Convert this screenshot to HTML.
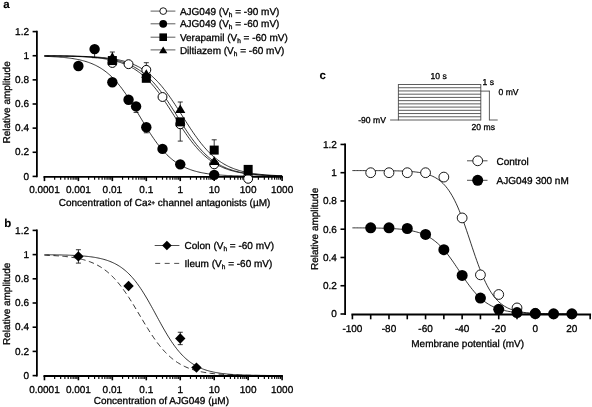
<!DOCTYPE html>
<html><head><meta charset="utf-8"><title>Figure</title>
<style>
html,body{margin:0;padding:0;background:#fff;}
body{width:592px;height:407px;overflow:hidden;font-family:"Liberation Sans",sans-serif;}
svg{display:block;filter:grayscale(1);}
svg text{font-family:"Liberation Sans",sans-serif;fill:#000;stroke:#000;stroke-width:0.3px;text-rendering:geometricPrecision;}
</style></head>
<body>
<svg width="592" height="407" viewBox="0 0 592 407">
<rect width="592" height="407" fill="#fff"/>
<line x1="36.90" y1="30.70" x2="36.90" y2="177.30" stroke="#000" stroke-width="1.8" /><line x1="32.60" y1="176.40" x2="36.90" y2="176.40" stroke="#000" stroke-width="1.6" /><text x="29.00" y="179.60" font-size="10" text-anchor="end" font-weight="normal"  fill="#000" >0</text><line x1="32.60" y1="152.27" x2="36.90" y2="152.27" stroke="#000" stroke-width="1.6" /><text x="29.00" y="155.47" font-size="10" text-anchor="end" font-weight="normal"  fill="#000" >0.2</text><line x1="32.60" y1="128.13" x2="36.90" y2="128.13" stroke="#000" stroke-width="1.6" /><text x="29.00" y="131.33" font-size="10" text-anchor="end" font-weight="normal"  fill="#000" >0.4</text><line x1="32.60" y1="104.00" x2="36.90" y2="104.00" stroke="#000" stroke-width="1.6" /><text x="29.00" y="107.20" font-size="10" text-anchor="end" font-weight="normal"  fill="#000" >0.6</text><line x1="32.60" y1="79.86" x2="36.90" y2="79.86" stroke="#000" stroke-width="1.6" /><text x="29.00" y="83.06" font-size="10" text-anchor="end" font-weight="normal"  fill="#000" >0.8</text><line x1="32.60" y1="55.73" x2="36.90" y2="55.73" stroke="#000" stroke-width="1.6" /><text x="29.00" y="58.93" font-size="10" text-anchor="end" font-weight="normal"  fill="#000" >1</text><line x1="32.60" y1="31.60" x2="36.90" y2="31.60" stroke="#000" stroke-width="1.6" /><text x="29.00" y="34.80" font-size="10" text-anchor="end" font-weight="normal"  fill="#000" >1.2</text><line x1="43.45" y1="176.80" x2="282.90" y2="176.80" stroke="#000" stroke-width="1.8" /><line x1="44.45" y1="176.80" x2="44.45" y2="181.10" stroke="#000" stroke-width="1.6" /><line x1="54.67" y1="176.80" x2="54.67" y2="179.70" stroke="#000" stroke-width="1.15" /><line x1="60.65" y1="176.80" x2="60.65" y2="179.70" stroke="#000" stroke-width="1.15" /><line x1="64.89" y1="176.80" x2="64.89" y2="179.70" stroke="#000" stroke-width="1.15" /><line x1="68.18" y1="176.80" x2="68.18" y2="179.70" stroke="#000" stroke-width="1.15" /><line x1="70.87" y1="176.80" x2="70.87" y2="179.70" stroke="#000" stroke-width="1.15" /><line x1="73.14" y1="176.80" x2="73.14" y2="179.70" stroke="#000" stroke-width="1.15" /><line x1="75.11" y1="176.80" x2="75.11" y2="179.70" stroke="#000" stroke-width="1.15" /><line x1="76.85" y1="176.80" x2="76.85" y2="179.70" stroke="#000" stroke-width="1.15" /><line x1="78.40" y1="176.80" x2="78.40" y2="181.10" stroke="#000" stroke-width="1.6" /><line x1="88.62" y1="176.80" x2="88.62" y2="179.70" stroke="#000" stroke-width="1.15" /><line x1="94.60" y1="176.80" x2="94.60" y2="179.70" stroke="#000" stroke-width="1.15" /><line x1="98.84" y1="176.80" x2="98.84" y2="179.70" stroke="#000" stroke-width="1.15" /><line x1="102.13" y1="176.80" x2="102.13" y2="179.70" stroke="#000" stroke-width="1.15" /><line x1="104.82" y1="176.80" x2="104.82" y2="179.70" stroke="#000" stroke-width="1.15" /><line x1="107.09" y1="176.80" x2="107.09" y2="179.70" stroke="#000" stroke-width="1.15" /><line x1="109.06" y1="176.80" x2="109.06" y2="179.70" stroke="#000" stroke-width="1.15" /><line x1="110.80" y1="176.80" x2="110.80" y2="179.70" stroke="#000" stroke-width="1.15" /><line x1="112.35" y1="176.80" x2="112.35" y2="181.10" stroke="#000" stroke-width="1.6" /><line x1="122.57" y1="176.80" x2="122.57" y2="179.70" stroke="#000" stroke-width="1.15" /><line x1="128.55" y1="176.80" x2="128.55" y2="179.70" stroke="#000" stroke-width="1.15" /><line x1="132.79" y1="176.80" x2="132.79" y2="179.70" stroke="#000" stroke-width="1.15" /><line x1="136.08" y1="176.80" x2="136.08" y2="179.70" stroke="#000" stroke-width="1.15" /><line x1="138.77" y1="176.80" x2="138.77" y2="179.70" stroke="#000" stroke-width="1.15" /><line x1="141.04" y1="176.80" x2="141.04" y2="179.70" stroke="#000" stroke-width="1.15" /><line x1="143.01" y1="176.80" x2="143.01" y2="179.70" stroke="#000" stroke-width="1.15" /><line x1="144.75" y1="176.80" x2="144.75" y2="179.70" stroke="#000" stroke-width="1.15" /><line x1="146.30" y1="176.80" x2="146.30" y2="181.10" stroke="#000" stroke-width="1.6" /><line x1="156.52" y1="176.80" x2="156.52" y2="179.70" stroke="#000" stroke-width="1.15" /><line x1="162.50" y1="176.80" x2="162.50" y2="179.70" stroke="#000" stroke-width="1.15" /><line x1="166.74" y1="176.80" x2="166.74" y2="179.70" stroke="#000" stroke-width="1.15" /><line x1="170.03" y1="176.80" x2="170.03" y2="179.70" stroke="#000" stroke-width="1.15" /><line x1="172.72" y1="176.80" x2="172.72" y2="179.70" stroke="#000" stroke-width="1.15" /><line x1="174.99" y1="176.80" x2="174.99" y2="179.70" stroke="#000" stroke-width="1.15" /><line x1="176.96" y1="176.80" x2="176.96" y2="179.70" stroke="#000" stroke-width="1.15" /><line x1="178.70" y1="176.80" x2="178.70" y2="179.70" stroke="#000" stroke-width="1.15" /><line x1="180.25" y1="176.80" x2="180.25" y2="181.10" stroke="#000" stroke-width="1.6" /><line x1="190.47" y1="176.80" x2="190.47" y2="179.70" stroke="#000" stroke-width="1.15" /><line x1="196.45" y1="176.80" x2="196.45" y2="179.70" stroke="#000" stroke-width="1.15" /><line x1="200.69" y1="176.80" x2="200.69" y2="179.70" stroke="#000" stroke-width="1.15" /><line x1="203.98" y1="176.80" x2="203.98" y2="179.70" stroke="#000" stroke-width="1.15" /><line x1="206.67" y1="176.80" x2="206.67" y2="179.70" stroke="#000" stroke-width="1.15" /><line x1="208.94" y1="176.80" x2="208.94" y2="179.70" stroke="#000" stroke-width="1.15" /><line x1="210.91" y1="176.80" x2="210.91" y2="179.70" stroke="#000" stroke-width="1.15" /><line x1="212.65" y1="176.80" x2="212.65" y2="179.70" stroke="#000" stroke-width="1.15" /><line x1="214.20" y1="176.80" x2="214.20" y2="181.10" stroke="#000" stroke-width="1.6" /><line x1="224.42" y1="176.80" x2="224.42" y2="179.70" stroke="#000" stroke-width="1.15" /><line x1="230.40" y1="176.80" x2="230.40" y2="179.70" stroke="#000" stroke-width="1.15" /><line x1="234.64" y1="176.80" x2="234.64" y2="179.70" stroke="#000" stroke-width="1.15" /><line x1="237.93" y1="176.80" x2="237.93" y2="179.70" stroke="#000" stroke-width="1.15" /><line x1="240.62" y1="176.80" x2="240.62" y2="179.70" stroke="#000" stroke-width="1.15" /><line x1="242.89" y1="176.80" x2="242.89" y2="179.70" stroke="#000" stroke-width="1.15" /><line x1="244.86" y1="176.80" x2="244.86" y2="179.70" stroke="#000" stroke-width="1.15" /><line x1="246.60" y1="176.80" x2="246.60" y2="179.70" stroke="#000" stroke-width="1.15" /><line x1="248.15" y1="176.80" x2="248.15" y2="181.10" stroke="#000" stroke-width="1.6" /><line x1="258.37" y1="176.80" x2="258.37" y2="179.70" stroke="#000" stroke-width="1.15" /><line x1="264.35" y1="176.80" x2="264.35" y2="179.70" stroke="#000" stroke-width="1.15" /><line x1="268.59" y1="176.80" x2="268.59" y2="179.70" stroke="#000" stroke-width="1.15" /><line x1="271.88" y1="176.80" x2="271.88" y2="179.70" stroke="#000" stroke-width="1.15" /><line x1="274.57" y1="176.80" x2="274.57" y2="179.70" stroke="#000" stroke-width="1.15" /><line x1="276.84" y1="176.80" x2="276.84" y2="179.70" stroke="#000" stroke-width="1.15" /><line x1="278.81" y1="176.80" x2="278.81" y2="179.70" stroke="#000" stroke-width="1.15" /><line x1="280.55" y1="176.80" x2="280.55" y2="179.70" stroke="#000" stroke-width="1.15" /><line x1="282.10" y1="176.80" x2="282.10" y2="181.10" stroke="#000" stroke-width="1.6" /><text x="44.45" y="192.60" font-size="10" text-anchor="middle" font-weight="normal"  fill="#000" >0.0001</text><text x="78.40" y="192.60" font-size="10" text-anchor="middle" font-weight="normal"  fill="#000" >0.001</text><text x="112.35" y="192.60" font-size="10" text-anchor="middle" font-weight="normal"  fill="#000" >0.01</text><text x="146.30" y="192.60" font-size="10" text-anchor="middle" font-weight="normal"  fill="#000" >0.1</text><text x="180.25" y="192.60" font-size="10" text-anchor="middle" font-weight="normal"  fill="#000" >1</text><text x="214.20" y="192.60" font-size="10" text-anchor="middle" font-weight="normal"  fill="#000" >10</text><text x="248.15" y="192.60" font-size="10" text-anchor="middle" font-weight="normal"  fill="#000" >100</text><text x="282.10" y="192.60" font-size="10" text-anchor="middle" font-weight="normal"  fill="#000" >1000</text><text x="58.70" y="205.80" font-size="10" text-anchor="start" font-weight="normal"  fill="#000" >Concentration of Ca<tspan font-size="6.5" dy="-1">2+</tspan><tspan dy="1"> channel antagonists (µM)</tspan></text><text transform="translate(10.0 102.4) rotate(-90)" font-size="10" text-anchor="middle" >Relative amplitude</text>
<text x="3.20" y="7.80" font-size="11.5" text-anchor="start" font-weight="bold"  fill="#000" style="stroke-width:0.1px">a</text>
<path d="M44.45 56.33 L45.64 56.38 L46.83 56.42 L48.01 56.47 L49.20 56.52 L50.39 56.57 L51.58 56.63 L52.77 56.69 L53.96 56.75 L55.14 56.82 L56.33 56.89 L57.52 56.97 L58.71 57.06 L59.90 57.15 L61.09 57.24 L62.27 57.34 L63.46 57.45 L64.65 57.57 L65.84 57.69 L67.03 57.82 L68.22 57.96 L69.40 58.11 L70.59 58.27 L71.78 58.44 L72.97 58.62 L74.16 58.82 L75.34 59.02 L76.53 59.24 L77.72 59.47 L78.91 59.72 L80.10 59.98 L81.29 60.26 L82.47 60.56 L83.66 60.88 L84.85 61.21 L86.04 61.57 L87.23 61.95 L88.42 62.35 L89.60 62.77 L90.79 63.23 L91.98 63.70 L93.17 64.21 L94.36 64.75 L95.54 65.31 L96.73 65.91 L97.92 66.55 L99.11 67.21 L100.30 67.92 L101.49 68.66 L102.67 69.45 L103.86 70.27 L105.05 71.14 L106.24 72.05 L107.43 73.00 L108.62 74.00 L109.80 75.05 L110.99 76.15 L112.18 77.29 L113.37 78.49 L114.56 79.73 L115.75 81.03 L116.93 82.38 L118.12 83.77 L119.31 85.22 L120.50 86.72 L121.69 88.27 L122.87 89.86 L124.06 91.50 L125.25 93.19 L126.44 94.91 L127.63 96.68 L128.82 98.49 L130.00 100.33 L131.19 102.20 L132.38 104.11 L133.57 106.03 L134.76 107.98 L135.95 109.95 L137.13 111.93 L138.32 113.91 L139.51 115.91 L140.70 117.90 L141.89 119.89 L143.07 121.87 L144.26 123.84 L145.45 125.79 L146.64 127.72 L147.83 129.63 L149.02 131.50 L150.20 133.35 L151.39 135.16 L152.58 136.94 L153.77 138.67 L154.96 140.37 L156.15 142.01 L157.33 143.61 L158.52 145.17 L159.71 146.67 L160.90 148.13 L162.09 149.53 L163.28 150.89 L164.46 152.19 L165.65 153.45 L166.84 154.65 L168.03 155.80 L169.22 156.91 L170.40 157.96 L171.59 158.97 L172.78 159.93 L173.97 160.85 L175.16 161.73 L176.35 162.56 L177.53 163.35 L178.72 164.10 L179.91 164.81 L181.10 165.48 L182.29 166.12 L183.48 166.72 L184.66 167.30 L185.85 167.84 L187.04 168.35 L188.23 168.83 L189.42 169.29 L190.60 169.72 L191.79 170.12 L192.98 170.50 L194.17 170.86 L195.36 171.20 L196.55 171.52 L197.73 171.82 L198.92 172.10 L200.11 172.37 L201.30 172.62 L202.49 172.85 L203.68 173.07 L204.86 173.28 L206.05 173.48 L207.24 173.66 L208.43 173.83 L209.62 173.99 L210.81 174.14 L211.99 174.28 L213.18 174.42 L214.37 174.54 L215.56 174.66 L216.75 174.77 L217.93 174.87 L219.12 174.97 L220.31 175.06 L221.50 175.14 L222.69 175.22 L223.88 175.30 L225.06 175.37 L226.25 175.43 L227.44 175.49 L228.63 175.55 L229.82 175.61 L231.01 175.66 L232.19 175.70 L233.38 175.75 L234.57 175.79 L235.76 175.83 L236.95 175.86 L238.13 175.90 L239.32 175.93 L240.51 175.96 L241.70 175.99 L242.89 176.01 L244.08 176.04 L245.26 176.06 L246.45 176.08 L247.64 176.10 L248.83 176.12 L250.02 176.14 L251.21 176.16 L252.39 176.17 L253.58 176.19 L254.77 176.20 L255.96 176.21 L257.15 176.23 L258.34 176.24 L259.52 176.25 L260.71 176.26 L261.90 176.27 L263.09 176.27 L264.28 176.28 L265.46 176.29 L266.65 176.30 L267.84 176.30 L269.03 176.31 L270.22 176.32 L271.41 176.32 L272.59 176.33 L273.78 176.33 L274.97 176.34 L276.16 176.34 L277.35 176.34 L278.54 176.35 L279.72 176.35 L280.91 176.35 L282.10 176.36" fill="none" stroke="#000" stroke-width="0.8" />
<path d="M44.45 55.87 L45.64 55.88 L46.83 55.88 L48.01 55.89 L49.20 55.90 L50.39 55.92 L51.58 55.93 L52.77 55.94 L53.96 55.95 L55.14 55.97 L56.33 55.98 L57.52 56.00 L58.71 56.02 L59.90 56.04 L61.09 56.05 L62.27 56.08 L63.46 56.10 L64.65 56.12 L65.84 56.15 L67.03 56.17 L68.22 56.20 L69.40 56.23 L70.59 56.26 L71.78 56.30 L72.97 56.33 L74.16 56.37 L75.34 56.41 L76.53 56.46 L77.72 56.50 L78.91 56.55 L80.10 56.60 L81.29 56.66 L82.47 56.72 L83.66 56.78 L84.85 56.85 L86.04 56.92 L87.23 56.99 L88.42 57.07 L89.60 57.16 L90.79 57.25 L91.98 57.34 L93.17 57.44 L94.36 57.55 L95.54 57.67 L96.73 57.79 L97.92 57.92 L99.11 58.06 L100.30 58.20 L101.49 58.36 L102.67 58.52 L103.86 58.70 L105.05 58.88 L106.24 59.08 L107.43 59.29 L108.62 59.51 L109.80 59.74 L110.99 59.99 L112.18 60.25 L113.37 60.53 L114.56 60.82 L115.75 61.13 L116.93 61.46 L118.12 61.81 L119.31 62.18 L120.50 62.57 L121.69 62.98 L122.87 63.41 L124.06 63.87 L125.25 64.36 L126.44 64.87 L127.63 65.41 L128.82 65.97 L130.00 66.57 L131.19 67.20 L132.38 67.86 L133.57 68.55 L134.76 69.28 L135.95 70.05 L137.13 70.85 L138.32 71.69 L139.51 72.57 L140.70 73.49 L141.89 74.45 L143.07 75.45 L144.26 76.49 L145.45 77.58 L146.64 78.72 L147.83 79.89 L149.02 81.11 L150.20 82.38 L151.39 83.69 L152.58 85.05 L153.77 86.44 L154.96 87.89 L156.15 89.37 L157.33 90.90 L158.52 92.46 L159.71 94.07 L160.90 95.71 L162.09 97.39 L163.28 99.09 L164.46 100.83 L165.65 102.60 L166.84 104.39 L168.03 106.20 L169.22 108.03 L170.40 109.88 L171.59 111.74 L172.78 113.60 L173.97 115.47 L175.16 117.34 L176.35 119.21 L177.53 121.08 L178.72 122.93 L179.91 124.77 L181.10 126.60 L182.29 128.40 L183.48 130.18 L184.66 131.94 L185.85 133.67 L187.04 135.36 L188.23 137.03 L189.42 138.65 L190.60 140.25 L191.79 141.80 L192.98 143.31 L194.17 144.78 L195.36 146.20 L196.55 147.59 L197.73 148.93 L198.92 150.22 L200.11 151.47 L201.30 152.68 L202.49 153.84 L203.68 154.95 L204.86 156.02 L206.05 157.05 L207.24 158.04 L208.43 158.99 L209.62 159.89 L210.81 160.76 L211.99 161.58 L213.18 162.37 L214.37 163.12 L215.56 163.84 L216.75 164.52 L217.93 165.17 L219.12 165.78 L220.31 166.37 L221.50 166.92 L222.69 167.45 L223.88 167.95 L225.06 168.43 L226.25 168.88 L227.44 169.30 L228.63 169.71 L229.82 170.09 L231.01 170.45 L232.19 170.79 L233.38 171.11 L234.57 171.42 L235.76 171.71 L236.95 171.98 L238.13 172.24 L239.32 172.48 L240.51 172.71 L241.70 172.92 L242.89 173.13 L244.08 173.32 L245.26 173.50 L246.45 173.67 L247.64 173.83 L248.83 173.98 L250.02 174.12 L251.21 174.26 L252.39 174.39 L253.58 174.51 L254.77 174.62 L255.96 174.72 L257.15 174.82 L258.34 174.92 L259.52 175.00 L260.71 175.09 L261.90 175.17 L263.09 175.24 L264.28 175.31 L265.46 175.37 L266.65 175.43 L267.84 175.49 L269.03 175.55 L270.22 175.60 L271.41 175.65 L272.59 175.69 L273.78 175.73 L274.97 175.77 L276.16 175.81 L277.35 175.85 L278.54 175.88 L279.72 175.91 L280.91 175.94 L282.10 175.97" fill="none" stroke="#000" stroke-width="0.8" />
<path d="M44.45 55.84 L45.64 55.84 L46.83 55.85 L48.01 55.86 L49.20 55.87 L50.39 55.88 L51.58 55.89 L52.77 55.90 L53.96 55.91 L55.14 55.92 L56.33 55.93 L57.52 55.95 L58.71 55.96 L59.90 55.97 L61.09 55.99 L62.27 56.01 L63.46 56.02 L64.65 56.04 L65.84 56.06 L67.03 56.09 L68.22 56.11 L69.40 56.13 L70.59 56.16 L71.78 56.19 L72.97 56.22 L74.16 56.25 L75.34 56.28 L76.53 56.32 L77.72 56.35 L78.91 56.39 L80.10 56.44 L81.29 56.48 L82.47 56.53 L83.66 56.58 L84.85 56.64 L86.04 56.70 L87.23 56.76 L88.42 56.82 L89.60 56.89 L90.79 56.97 L91.98 57.05 L93.17 57.13 L94.36 57.22 L95.54 57.32 L96.73 57.42 L97.92 57.53 L99.11 57.64 L100.30 57.77 L101.49 57.90 L102.67 58.03 L103.86 58.18 L105.05 58.33 L106.24 58.50 L107.43 58.68 L108.62 58.86 L109.80 59.06 L110.99 59.27 L112.18 59.49 L113.37 59.73 L114.56 59.98 L115.75 60.24 L116.93 60.52 L118.12 60.82 L119.31 61.14 L120.50 61.47 L121.69 61.82 L122.87 62.20 L124.06 62.60 L125.25 63.01 L126.44 63.46 L127.63 63.92 L128.82 64.42 L130.00 64.94 L131.19 65.49 L132.38 66.06 L133.57 66.67 L134.76 67.32 L135.95 67.99 L137.13 68.70 L138.32 69.45 L139.51 70.23 L140.70 71.05 L141.89 71.91 L143.07 72.81 L144.26 73.76 L145.45 74.74 L146.64 75.77 L147.83 76.84 L149.02 77.96 L150.20 79.12 L151.39 80.33 L152.58 81.59 L153.77 82.89 L154.96 84.23 L156.15 85.62 L157.33 87.06 L158.52 88.54 L159.71 90.06 L160.90 91.63 L162.09 93.23 L163.28 94.87 L164.46 96.56 L165.65 98.27 L166.84 100.02 L168.03 101.79 L169.22 103.60 L170.40 105.42 L171.59 107.27 L172.78 109.13 L173.97 111.01 L175.16 112.90 L176.35 114.79 L177.53 116.69 L178.72 118.58 L179.91 120.47 L181.10 122.35 L182.29 124.22 L183.48 126.08 L184.66 127.91 L185.85 129.72 L187.04 131.51 L188.23 133.27 L189.42 134.99 L190.60 136.68 L191.79 138.34 L192.98 139.96 L194.17 141.54 L195.36 143.08 L196.55 144.57 L197.73 146.02 L198.92 147.43 L200.11 148.79 L201.30 150.10 L202.49 151.37 L203.68 152.60 L204.86 153.78 L206.05 154.91 L207.24 156.00 L208.43 157.04 L209.62 158.04 L210.81 159.00 L211.99 159.91 L213.18 160.79 L214.37 161.62 L215.56 162.42 L216.75 163.18 L217.93 163.90 L219.12 164.59 L220.31 165.24 L221.50 165.86 L222.69 166.45 L223.88 167.01 L225.06 167.54 L226.25 168.04 L227.44 168.52 L228.63 168.97 L229.82 169.39 L231.01 169.80 L232.19 170.18 L233.38 170.54 L234.57 170.88 L235.76 171.20 L236.95 171.51 L238.13 171.79 L239.32 172.06 L240.51 172.32 L241.70 172.56 L242.89 172.79 L244.08 173.00 L245.26 173.20 L246.45 173.39 L247.64 173.57 L248.83 173.74 L250.02 173.90 L251.21 174.05 L252.39 174.19 L253.58 174.32 L254.77 174.45 L255.96 174.56 L257.15 174.67 L258.34 174.78 L259.52 174.87 L260.71 174.97 L261.90 175.05 L263.09 175.13 L264.28 175.21 L265.46 175.28 L266.65 175.35 L267.84 175.41 L269.03 175.47 L270.22 175.53 L271.41 175.58 L272.59 175.63 L273.78 175.68 L274.97 175.72 L276.16 175.76 L277.35 175.80 L278.54 175.84 L279.72 175.87 L280.91 175.90 L282.10 175.93" fill="none" stroke="#000" stroke-width="0.8" />
<path d="M44.45 55.82 L45.64 55.83 L46.83 55.83 L48.01 55.84 L49.20 55.84 L50.39 55.85 L51.58 55.86 L52.77 55.87 L53.96 55.88 L55.14 55.89 L56.33 55.90 L57.52 55.91 L58.71 55.92 L59.90 55.93 L61.09 55.94 L62.27 55.96 L63.46 55.97 L64.65 55.99 L65.84 56.00 L67.03 56.02 L68.22 56.04 L69.40 56.06 L70.59 56.08 L71.78 56.10 L72.97 56.13 L74.16 56.15 L75.34 56.18 L76.53 56.21 L77.72 56.24 L78.91 56.27 L80.10 56.30 L81.29 56.34 L82.47 56.38 L83.66 56.42 L84.85 56.46 L86.04 56.51 L87.23 56.56 L88.42 56.61 L89.60 56.67 L90.79 56.73 L91.98 56.79 L93.17 56.86 L94.36 56.93 L95.54 57.01 L96.73 57.09 L97.92 57.17 L99.11 57.26 L100.30 57.36 L101.49 57.46 L102.67 57.57 L103.86 57.69 L105.05 57.81 L106.24 57.94 L107.43 58.08 L108.62 58.23 L109.80 58.39 L110.99 58.55 L112.18 58.73 L113.37 58.92 L114.56 59.12 L115.75 59.33 L116.93 59.55 L118.12 59.79 L119.31 60.04 L120.50 60.30 L121.69 60.58 L122.87 60.88 L124.06 61.19 L125.25 61.53 L126.44 61.88 L127.63 62.25 L128.82 62.64 L130.00 63.06 L131.19 63.50 L132.38 63.96 L133.57 64.45 L134.76 64.97 L135.95 65.51 L137.13 66.08 L138.32 66.69 L139.51 67.32 L140.70 67.99 L141.89 68.69 L143.07 69.42 L144.26 70.19 L145.45 71.00 L146.64 71.85 L147.83 72.74 L149.02 73.66 L150.20 74.63 L151.39 75.64 L152.58 76.70 L153.77 77.79 L154.96 78.93 L156.15 80.12 L157.33 81.35 L158.52 82.62 L159.71 83.94 L160.90 85.31 L162.09 86.71 L163.28 88.16 L164.46 89.66 L165.65 91.19 L166.84 92.76 L168.03 94.38 L169.22 96.02 L170.40 97.71 L171.59 99.42 L172.78 101.16 L173.97 102.94 L175.16 104.73 L176.35 106.55 L177.53 108.38 L178.72 110.23 L179.91 112.09 L181.10 113.96 L182.29 115.83 L183.48 117.70 L184.66 119.57 L185.85 121.43 L187.04 123.28 L188.23 125.12 L189.42 126.94 L190.60 128.74 L191.79 130.52 L192.98 132.27 L194.17 133.99 L195.36 135.68 L196.55 137.34 L197.73 138.96 L198.92 140.54 L200.11 142.09 L201.30 143.59 L202.49 145.05 L203.68 146.47 L204.86 147.84 L206.05 149.17 L207.24 150.46 L208.43 151.70 L209.62 152.90 L210.81 154.05 L211.99 155.16 L213.18 156.22 L214.37 157.24 L215.56 158.22 L216.75 159.16 L217.93 160.06 L219.12 160.91 L220.31 161.73 L221.50 162.51 L222.69 163.26 L223.88 163.97 L225.06 164.64 L226.25 165.28 L227.44 165.90 L228.63 166.48 L229.82 167.03 L231.01 167.55 L232.19 168.04 L233.38 168.51 L234.57 168.96 L235.76 169.38 L236.95 169.78 L238.13 170.16 L239.32 170.52 L240.51 170.85 L241.70 171.17 L242.89 171.47 L244.08 171.76 L245.26 172.03 L246.45 172.28 L247.64 172.52 L248.83 172.75 L250.02 172.96 L251.21 173.16 L252.39 173.35 L253.58 173.53 L254.77 173.70 L255.96 173.86 L257.15 174.01 L258.34 174.15 L259.52 174.28 L260.71 174.41 L261.90 174.53 L263.09 174.64 L264.28 174.74 L265.46 174.84 L266.65 174.93 L267.84 175.02 L269.03 175.10 L270.22 175.18 L271.41 175.25 L272.59 175.32 L273.78 175.39 L274.97 175.45 L276.16 175.50 L277.35 175.56 L278.54 175.61 L279.72 175.65 L280.91 175.70 L282.10 175.74" fill="none" stroke="#000" stroke-width="0.8" />
<line x1="146.30" y1="69.85" x2="146.30" y2="62.70" stroke="#000" stroke-width="0.8" /><line x1="143.80" y1="62.70" x2="148.80" y2="62.70" stroke="#000" stroke-width="0.8" />
<line x1="180.25" y1="124.27" x2="180.25" y2="141.10" stroke="#000" stroke-width="0.8" /><line x1="177.75" y1="141.10" x2="182.75" y2="141.10" stroke="#000" stroke-width="0.8" />
<circle cx="112.35" cy="62.97" r="4.45" fill="#fff" stroke="#000" stroke-width="1.0"/>
<circle cx="128.55" cy="64.18" r="4.45" fill="#fff" stroke="#000" stroke-width="1.0"/>
<circle cx="146.30" cy="69.85" r="4.45" fill="#fff" stroke="#000" stroke-width="1.0"/>
<circle cx="162.50" cy="97.00" r="4.45" fill="#fff" stroke="#000" stroke-width="1.0"/>
<circle cx="180.25" cy="124.27" r="4.45" fill="#fff" stroke="#000" stroke-width="1.0"/>
<circle cx="214.20" cy="164.33" r="4.45" fill="#fff" stroke="#000" stroke-width="1.0"/>
<circle cx="248.15" cy="178.81" r="4.45" fill="#fff" stroke="#000" stroke-width="1.0"/>
<line x1="94.60" y1="49.09" x2="94.60" y2="57.70" stroke="#000" stroke-width="0.8" /><line x1="92.10" y1="57.70" x2="97.10" y2="57.70" stroke="#000" stroke-width="0.8" />
<line x1="136.08" y1="106.41" x2="136.08" y2="112.40" stroke="#000" stroke-width="0.8" /><line x1="133.58" y1="112.40" x2="138.58" y2="112.40" stroke="#000" stroke-width="0.8" />
<line x1="146.30" y1="127.29" x2="146.30" y2="132.80" stroke="#000" stroke-width="0.8" /><line x1="143.80" y1="132.80" x2="148.80" y2="132.80" stroke="#000" stroke-width="0.8" />
<circle cx="78.40" cy="65.99" r="5.20" fill="#000"/>
<circle cx="94.60" cy="49.09" r="5.20" fill="#000"/>
<circle cx="112.35" cy="82.28" r="5.20" fill="#000"/>
<circle cx="128.55" cy="99.77" r="5.20" fill="#000"/>
<circle cx="136.08" cy="106.41" r="5.20" fill="#000"/>
<circle cx="146.30" cy="127.29" r="5.20" fill="#000"/>
<circle cx="162.50" cy="148.89" r="5.20" fill="#000"/>
<circle cx="180.25" cy="164.33" r="5.20" fill="#000"/>
<circle cx="214.20" cy="174.83" r="5.20" fill="#000"/>
<line x1="214.20" y1="150.09" x2="214.20" y2="139.80" stroke="#000" stroke-width="0.8" /><line x1="211.70" y1="139.80" x2="216.70" y2="139.80" stroke="#000" stroke-width="0.8" />
<rect x="107.85" y="56.06" width="9.0" height="9.0" fill="#000"/>
<rect x="141.80" y="73.80" width="9.0" height="9.0" fill="#000"/>
<rect x="175.75" y="117.36" width="9.0" height="9.0" fill="#000"/>
<rect x="209.70" y="145.59" width="9.0" height="9.0" fill="#000"/>
<rect x="243.65" y="164.90" width="9.0" height="9.0" fill="#000"/>
<line x1="112.35" y1="56.94" x2="112.35" y2="52.00" stroke="#000" stroke-width="0.8" /><line x1="109.85" y1="52.00" x2="114.85" y2="52.00" stroke="#000" stroke-width="0.8" />
<line x1="180.25" y1="109.07" x2="180.25" y2="102.00" stroke="#000" stroke-width="0.8" /><line x1="177.75" y1="102.00" x2="182.75" y2="102.00" stroke="#000" stroke-width="0.8" />
<path d="M112.35 52.34 L117.45 60.94 L107.25 60.94 Z" fill="#000"/>
<path d="M146.30 69.23 L151.40 77.83 L141.20 77.83 Z" fill="#000"/>
<path d="M180.25 104.47 L185.35 113.07 L175.15 113.07 Z" fill="#000"/>
<path d="M214.20 156.35 L219.30 164.95 L209.10 164.95 Z" fill="#000"/>
<path d="M248.15 166.97 L253.25 175.57 L243.05 175.57 Z" fill="#000"/>
<line x1="150.60" y1="11.10" x2="175.40" y2="11.10" stroke="#333" stroke-width="0.8" />
<circle cx="163.20" cy="11.10" r="3.35" fill="#fff" stroke="#000" stroke-width="0.9"/>
<text x="179.90" y="14.70" font-size="10" text-anchor="start" font-weight="normal"  fill="#000" >AJG049 (V<tspan font-size="6.5" dy="2">h</tspan><tspan dy="-2"> = -90 mV)</tspan></text>
<line x1="150.60" y1="23.80" x2="175.40" y2="23.80" stroke="#333" stroke-width="0.8" />
<circle cx="163.20" cy="23.80" r="3.90" fill="#000"/>
<text x="179.90" y="27.40" font-size="10" text-anchor="start" font-weight="normal"  fill="#000" >AJG049 (V<tspan font-size="6.5" dy="2">h</tspan><tspan dy="-2"> = -60 mV)</tspan></text>
<line x1="150.60" y1="37.20" x2="175.40" y2="37.20" stroke="#333" stroke-width="0.8" />
<rect x="159.40" y="33.40" width="7.6" height="7.6" fill="#000"/>
<text x="179.90" y="40.80" font-size="10" text-anchor="start" font-weight="normal"  fill="#000" >Verapamil (V<tspan font-size="6.5" dy="2">h</tspan><tspan dy="-2"> = -60 mV)</tspan></text>
<line x1="150.60" y1="49.90" x2="175.40" y2="49.90" stroke="#333" stroke-width="0.8" />
<path d="M163.20 46.50 L167.30 53.30 L159.10 53.30 Z" fill="#000"/>
<text x="179.90" y="53.50" font-size="10" text-anchor="start" font-weight="normal"  fill="#000" >Diltiazem (V<tspan font-size="6.5" dy="2">h</tspan><tspan dy="-2"> = -60 mV)</tspan></text>
<line x1="36.90" y1="229.50" x2="36.90" y2="376.50" stroke="#000" stroke-width="1.8" /><line x1="32.60" y1="375.60" x2="36.90" y2="375.60" stroke="#000" stroke-width="1.6" /><text x="29.00" y="378.80" font-size="10" text-anchor="end" font-weight="normal"  fill="#000" >0</text><line x1="32.60" y1="351.40" x2="36.90" y2="351.40" stroke="#000" stroke-width="1.6" /><text x="29.00" y="354.60" font-size="10" text-anchor="end" font-weight="normal"  fill="#000" >0.2</text><line x1="32.60" y1="327.20" x2="36.90" y2="327.20" stroke="#000" stroke-width="1.6" /><text x="29.00" y="330.40" font-size="10" text-anchor="end" font-weight="normal"  fill="#000" >0.4</text><line x1="32.60" y1="303.00" x2="36.90" y2="303.00" stroke="#000" stroke-width="1.6" /><text x="29.00" y="306.20" font-size="10" text-anchor="end" font-weight="normal"  fill="#000" >0.6</text><line x1="32.60" y1="278.80" x2="36.90" y2="278.80" stroke="#000" stroke-width="1.6" /><text x="29.00" y="282.00" font-size="10" text-anchor="end" font-weight="normal"  fill="#000" >0.8</text><line x1="32.60" y1="254.60" x2="36.90" y2="254.60" stroke="#000" stroke-width="1.6" /><text x="29.00" y="257.80" font-size="10" text-anchor="end" font-weight="normal"  fill="#000" >1</text><line x1="32.60" y1="230.40" x2="36.90" y2="230.40" stroke="#000" stroke-width="1.6" /><text x="29.00" y="233.60" font-size="10" text-anchor="end" font-weight="normal"  fill="#000" >1.2</text><line x1="43.45" y1="376.00" x2="282.90" y2="376.00" stroke="#000" stroke-width="1.8" /><line x1="44.45" y1="376.00" x2="44.45" y2="380.30" stroke="#000" stroke-width="1.6" /><line x1="54.67" y1="376.00" x2="54.67" y2="378.90" stroke="#000" stroke-width="1.15" /><line x1="60.65" y1="376.00" x2="60.65" y2="378.90" stroke="#000" stroke-width="1.15" /><line x1="64.89" y1="376.00" x2="64.89" y2="378.90" stroke="#000" stroke-width="1.15" /><line x1="68.18" y1="376.00" x2="68.18" y2="378.90" stroke="#000" stroke-width="1.15" /><line x1="70.87" y1="376.00" x2="70.87" y2="378.90" stroke="#000" stroke-width="1.15" /><line x1="73.14" y1="376.00" x2="73.14" y2="378.90" stroke="#000" stroke-width="1.15" /><line x1="75.11" y1="376.00" x2="75.11" y2="378.90" stroke="#000" stroke-width="1.15" /><line x1="76.85" y1="376.00" x2="76.85" y2="378.90" stroke="#000" stroke-width="1.15" /><line x1="78.40" y1="376.00" x2="78.40" y2="380.30" stroke="#000" stroke-width="1.6" /><line x1="88.62" y1="376.00" x2="88.62" y2="378.90" stroke="#000" stroke-width="1.15" /><line x1="94.60" y1="376.00" x2="94.60" y2="378.90" stroke="#000" stroke-width="1.15" /><line x1="98.84" y1="376.00" x2="98.84" y2="378.90" stroke="#000" stroke-width="1.15" /><line x1="102.13" y1="376.00" x2="102.13" y2="378.90" stroke="#000" stroke-width="1.15" /><line x1="104.82" y1="376.00" x2="104.82" y2="378.90" stroke="#000" stroke-width="1.15" /><line x1="107.09" y1="376.00" x2="107.09" y2="378.90" stroke="#000" stroke-width="1.15" /><line x1="109.06" y1="376.00" x2="109.06" y2="378.90" stroke="#000" stroke-width="1.15" /><line x1="110.80" y1="376.00" x2="110.80" y2="378.90" stroke="#000" stroke-width="1.15" /><line x1="112.35" y1="376.00" x2="112.35" y2="380.30" stroke="#000" stroke-width="1.6" /><line x1="122.57" y1="376.00" x2="122.57" y2="378.90" stroke="#000" stroke-width="1.15" /><line x1="128.55" y1="376.00" x2="128.55" y2="378.90" stroke="#000" stroke-width="1.15" /><line x1="132.79" y1="376.00" x2="132.79" y2="378.90" stroke="#000" stroke-width="1.15" /><line x1="136.08" y1="376.00" x2="136.08" y2="378.90" stroke="#000" stroke-width="1.15" /><line x1="138.77" y1="376.00" x2="138.77" y2="378.90" stroke="#000" stroke-width="1.15" /><line x1="141.04" y1="376.00" x2="141.04" y2="378.90" stroke="#000" stroke-width="1.15" /><line x1="143.01" y1="376.00" x2="143.01" y2="378.90" stroke="#000" stroke-width="1.15" /><line x1="144.75" y1="376.00" x2="144.75" y2="378.90" stroke="#000" stroke-width="1.15" /><line x1="146.30" y1="376.00" x2="146.30" y2="380.30" stroke="#000" stroke-width="1.6" /><line x1="156.52" y1="376.00" x2="156.52" y2="378.90" stroke="#000" stroke-width="1.15" /><line x1="162.50" y1="376.00" x2="162.50" y2="378.90" stroke="#000" stroke-width="1.15" /><line x1="166.74" y1="376.00" x2="166.74" y2="378.90" stroke="#000" stroke-width="1.15" /><line x1="170.03" y1="376.00" x2="170.03" y2="378.90" stroke="#000" stroke-width="1.15" /><line x1="172.72" y1="376.00" x2="172.72" y2="378.90" stroke="#000" stroke-width="1.15" /><line x1="174.99" y1="376.00" x2="174.99" y2="378.90" stroke="#000" stroke-width="1.15" /><line x1="176.96" y1="376.00" x2="176.96" y2="378.90" stroke="#000" stroke-width="1.15" /><line x1="178.70" y1="376.00" x2="178.70" y2="378.90" stroke="#000" stroke-width="1.15" /><line x1="180.25" y1="376.00" x2="180.25" y2="380.30" stroke="#000" stroke-width="1.6" /><line x1="190.47" y1="376.00" x2="190.47" y2="378.90" stroke="#000" stroke-width="1.15" /><line x1="196.45" y1="376.00" x2="196.45" y2="378.90" stroke="#000" stroke-width="1.15" /><line x1="200.69" y1="376.00" x2="200.69" y2="378.90" stroke="#000" stroke-width="1.15" /><line x1="203.98" y1="376.00" x2="203.98" y2="378.90" stroke="#000" stroke-width="1.15" /><line x1="206.67" y1="376.00" x2="206.67" y2="378.90" stroke="#000" stroke-width="1.15" /><line x1="208.94" y1="376.00" x2="208.94" y2="378.90" stroke="#000" stroke-width="1.15" /><line x1="210.91" y1="376.00" x2="210.91" y2="378.90" stroke="#000" stroke-width="1.15" /><line x1="212.65" y1="376.00" x2="212.65" y2="378.90" stroke="#000" stroke-width="1.15" /><line x1="214.20" y1="376.00" x2="214.20" y2="380.30" stroke="#000" stroke-width="1.6" /><line x1="224.42" y1="376.00" x2="224.42" y2="378.90" stroke="#000" stroke-width="1.15" /><line x1="230.40" y1="376.00" x2="230.40" y2="378.90" stroke="#000" stroke-width="1.15" /><line x1="234.64" y1="376.00" x2="234.64" y2="378.90" stroke="#000" stroke-width="1.15" /><line x1="237.93" y1="376.00" x2="237.93" y2="378.90" stroke="#000" stroke-width="1.15" /><line x1="240.62" y1="376.00" x2="240.62" y2="378.90" stroke="#000" stroke-width="1.15" /><line x1="242.89" y1="376.00" x2="242.89" y2="378.90" stroke="#000" stroke-width="1.15" /><line x1="244.86" y1="376.00" x2="244.86" y2="378.90" stroke="#000" stroke-width="1.15" /><line x1="246.60" y1="376.00" x2="246.60" y2="378.90" stroke="#000" stroke-width="1.15" /><line x1="248.15" y1="376.00" x2="248.15" y2="380.30" stroke="#000" stroke-width="1.6" /><line x1="258.37" y1="376.00" x2="258.37" y2="378.90" stroke="#000" stroke-width="1.15" /><line x1="264.35" y1="376.00" x2="264.35" y2="378.90" stroke="#000" stroke-width="1.15" /><line x1="268.59" y1="376.00" x2="268.59" y2="378.90" stroke="#000" stroke-width="1.15" /><line x1="271.88" y1="376.00" x2="271.88" y2="378.90" stroke="#000" stroke-width="1.15" /><line x1="274.57" y1="376.00" x2="274.57" y2="378.90" stroke="#000" stroke-width="1.15" /><line x1="276.84" y1="376.00" x2="276.84" y2="378.90" stroke="#000" stroke-width="1.15" /><line x1="278.81" y1="376.00" x2="278.81" y2="378.90" stroke="#000" stroke-width="1.15" /><line x1="280.55" y1="376.00" x2="280.55" y2="378.90" stroke="#000" stroke-width="1.15" /><line x1="282.10" y1="376.00" x2="282.10" y2="380.30" stroke="#000" stroke-width="1.6" /><text x="44.45" y="392.80" font-size="10" text-anchor="middle" font-weight="normal"  fill="#000" >0.0001</text><text x="78.40" y="392.80" font-size="10" text-anchor="middle" font-weight="normal"  fill="#000" >0.001</text><text x="112.35" y="392.80" font-size="10" text-anchor="middle" font-weight="normal"  fill="#000" >0.01</text><text x="146.30" y="392.80" font-size="10" text-anchor="middle" font-weight="normal"  fill="#000" >0.1</text><text x="180.25" y="392.80" font-size="10" text-anchor="middle" font-weight="normal"  fill="#000" >1</text><text x="214.20" y="392.80" font-size="10" text-anchor="middle" font-weight="normal"  fill="#000" >10</text><text x="248.15" y="392.80" font-size="10" text-anchor="middle" font-weight="normal"  fill="#000" >100</text><text x="282.10" y="392.80" font-size="10" text-anchor="middle" font-weight="normal"  fill="#000" >1000</text><text x="93.70" y="404.00" font-size="10" text-anchor="start" font-weight="normal"  fill="#000" >Concentration of AJG049 (µM)</text><text transform="translate(10.0 303.8) rotate(-90)" font-size="10" text-anchor="middle" >Relative amplitude</text>
<text x="4.30" y="227.40" font-size="11.5" text-anchor="start" font-weight="bold"  fill="#000" style="stroke-width:0.1px">b</text>
<path d="M44.45 254.73 L45.64 254.74 L46.83 254.75 L48.01 254.76 L49.20 254.78 L50.39 254.79 L51.58 254.80 L52.77 254.82 L53.96 254.84 L55.14 254.85 L56.33 254.87 L57.52 254.89 L58.71 254.92 L59.90 254.94 L61.09 254.96 L62.27 254.99 L63.46 255.02 L64.65 255.05 L65.84 255.09 L67.03 255.12 L68.22 255.16 L69.40 255.20 L70.59 255.25 L71.78 255.30 L72.97 255.35 L74.16 255.41 L75.34 255.47 L76.53 255.53 L77.72 255.60 L78.91 255.67 L80.10 255.76 L81.29 255.84 L82.47 255.93 L83.66 256.03 L84.85 256.14 L86.04 256.25 L87.23 256.38 L88.42 256.51 L89.60 256.65 L90.79 256.80 L91.98 256.96 L93.17 257.14 L94.36 257.32 L95.54 257.52 L96.73 257.74 L97.92 257.97 L99.11 258.21 L100.30 258.47 L101.49 258.76 L102.67 259.06 L103.86 259.38 L105.05 259.72 L106.24 260.09 L107.43 260.48 L108.62 260.90 L109.80 261.35 L110.99 261.83 L112.18 262.34 L113.37 262.88 L114.56 263.46 L115.75 264.07 L116.93 264.72 L118.12 265.42 L119.31 266.15 L120.50 266.93 L121.69 267.76 L122.87 268.63 L124.06 269.56 L125.25 270.54 L126.44 271.57 L127.63 272.65 L128.82 273.80 L130.00 275.00 L131.19 276.26 L132.38 277.58 L133.57 278.96 L134.76 280.40 L135.95 281.90 L137.13 283.47 L138.32 285.09 L139.51 286.77 L140.70 288.52 L141.89 290.31 L143.07 292.17 L144.26 294.07 L145.45 296.02 L146.64 298.02 L147.83 300.06 L149.02 302.14 L150.20 304.25 L151.39 306.38 L152.58 308.54 L153.77 310.72 L154.96 312.90 L156.15 315.10 L157.33 317.29 L158.52 319.48 L159.71 321.65 L160.90 323.81 L162.09 325.95 L163.28 328.06 L164.46 330.13 L165.65 332.17 L166.84 334.17 L168.03 336.13 L169.22 338.03 L170.40 339.88 L171.59 341.68 L172.78 343.42 L173.97 345.11 L175.16 346.73 L176.35 348.29 L177.53 349.80 L178.72 351.24 L179.91 352.62 L181.10 353.94 L182.29 355.20 L183.48 356.40 L184.66 357.54 L185.85 358.63 L187.04 359.66 L188.23 360.64 L189.42 361.56 L190.60 362.44 L191.79 363.27 L192.98 364.05 L194.17 364.78 L195.36 365.48 L196.55 366.13 L197.73 366.74 L198.92 367.32 L200.11 367.86 L201.30 368.37 L202.49 368.85 L203.68 369.30 L204.86 369.72 L206.05 370.11 L207.24 370.48 L208.43 370.82 L209.62 371.14 L210.81 371.44 L211.99 371.73 L213.18 371.99 L214.37 372.23 L215.56 372.46 L216.75 372.68 L217.93 372.88 L219.12 373.06 L220.31 373.24 L221.50 373.40 L222.69 373.55 L223.88 373.69 L225.06 373.82 L226.25 373.95 L227.44 374.06 L228.63 374.17 L229.82 374.27 L231.01 374.36 L232.19 374.44 L233.38 374.52 L234.57 374.60 L235.76 374.67 L236.95 374.73 L238.13 374.79 L239.32 374.85 L240.51 374.90 L241.70 374.95 L242.89 375.00 L244.08 375.04 L245.26 375.08 L246.45 375.11 L247.64 375.15 L248.83 375.18 L250.02 375.21 L251.21 375.24 L252.39 375.26 L253.58 375.28 L254.77 375.31 L255.96 375.33 L257.15 375.35 L258.34 375.36 L259.52 375.38 L260.71 375.40 L261.90 375.41 L263.09 375.42 L264.28 375.44 L265.46 375.45 L266.65 375.46 L267.84 375.47 L269.03 375.48 L270.22 375.49 L271.41 375.49 L272.59 375.50 L273.78 375.51 L274.97 375.51 L276.16 375.52 L277.35 375.53 L278.54 375.53 L279.72 375.54 L280.91 375.54 L282.10 375.54" fill="none" stroke="#000" stroke-width="0.8" />
<path d="M44.45 255.21 L45.64 255.25 L46.83 255.29 L48.01 255.34 L49.20 255.39 L50.39 255.44 L51.58 255.50 L52.77 255.56 L53.96 255.62 L55.14 255.69 L56.33 255.77 L57.52 255.85 L58.71 255.93 L59.90 256.02 L61.09 256.12 L62.27 256.22 L63.46 256.33 L64.65 256.44 L65.84 256.57 L67.03 256.70 L68.22 256.84 L69.40 256.99 L70.59 257.15 L71.78 257.32 L72.97 257.50 L74.16 257.70 L75.34 257.90 L76.53 258.12 L77.72 258.35 L78.91 258.60 L80.10 258.87 L81.29 259.15 L82.47 259.44 L83.66 259.76 L84.85 260.10 L86.04 260.45 L87.23 260.83 L88.42 261.24 L89.60 261.66 L90.79 262.12 L91.98 262.60 L93.17 263.10 L94.36 263.64 L95.54 264.21 L96.73 264.81 L97.92 265.45 L99.11 266.12 L100.30 266.82 L101.49 267.57 L102.67 268.35 L103.86 269.18 L105.05 270.05 L106.24 270.96 L107.43 271.92 L108.62 272.92 L109.80 273.97 L110.99 275.07 L112.18 276.22 L113.37 277.42 L114.56 278.67 L115.75 279.97 L116.93 281.32 L118.12 282.72 L119.31 284.17 L120.50 285.67 L121.69 287.23 L122.87 288.82 L124.06 290.47 L125.25 292.16 L126.44 293.89 L127.63 295.66 L128.82 297.48 L130.00 299.32 L131.19 301.20 L132.38 303.11 L133.57 305.04 L134.76 306.99 L135.95 308.97 L137.13 310.95 L138.32 312.94 L139.51 314.94 L140.70 316.94 L141.89 318.93 L143.07 320.92 L144.26 322.89 L145.45 324.85 L146.64 326.79 L147.83 328.70 L149.02 330.58 L150.20 332.43 L151.39 334.25 L152.58 336.03 L153.77 337.77 L154.96 339.47 L156.15 341.12 L157.33 342.72 L158.52 344.28 L159.71 345.79 L160.90 347.25 L162.09 348.66 L163.28 350.02 L164.46 351.33 L165.65 352.58 L166.84 353.79 L168.03 354.95 L169.22 356.05 L170.40 357.11 L171.59 358.12 L172.78 359.09 L173.97 360.01 L175.16 360.89 L176.35 361.72 L177.53 362.51 L178.72 363.26 L179.91 363.98 L181.10 364.65 L182.29 365.29 L183.48 365.90 L184.66 366.47 L185.85 367.01 L187.04 367.53 L188.23 368.01 L189.42 368.47 L190.60 368.90 L191.79 369.30 L192.98 369.69 L194.17 370.05 L195.36 370.39 L196.55 370.71 L197.73 371.01 L198.92 371.29 L200.11 371.56 L201.30 371.81 L202.49 372.04 L203.68 372.26 L204.86 372.47 L206.05 372.67 L207.24 372.85 L208.43 373.02 L209.62 373.18 L210.81 373.34 L211.99 373.48 L213.18 373.61 L214.37 373.74 L215.56 373.85 L216.75 373.96 L217.93 374.07 L219.12 374.16 L220.31 374.26 L221.50 374.34 L222.69 374.42 L223.88 374.49 L225.06 374.57 L226.25 374.63 L227.44 374.69 L228.63 374.75 L229.82 374.80 L231.01 374.85 L232.19 374.90 L233.38 374.95 L234.57 374.99 L235.76 375.03 L236.95 375.06 L238.13 375.10 L239.32 375.13 L240.51 375.16 L241.70 375.19 L242.89 375.21 L244.08 375.24 L245.26 375.26 L246.45 375.28 L247.64 375.30 L248.83 375.32 L250.02 375.34 L251.21 375.36 L252.39 375.37 L253.58 375.39 L254.77 375.40 L255.96 375.41 L257.15 375.42 L258.34 375.44 L259.52 375.45 L260.71 375.46 L261.90 375.47 L263.09 375.47 L264.28 375.48 L265.46 375.49 L266.65 375.50 L267.84 375.50 L269.03 375.51 L270.22 375.52 L271.41 375.52 L272.59 375.53 L273.78 375.53 L274.97 375.53 L276.16 375.54 L277.35 375.54 L278.54 375.55 L279.72 375.55 L280.91 375.55 L282.10 375.56" fill="none" stroke="#000" stroke-width="0.8" stroke-dasharray="5.5 3.5"/>
<line x1="78.40" y1="256.42" x2="78.40" y2="249.72" stroke="#000" stroke-width="0.8" /><line x1="75.90" y1="249.72" x2="80.90" y2="249.72" stroke="#000" stroke-width="0.8" />
<line x1="78.40" y1="256.42" x2="78.40" y2="263.12" stroke="#000" stroke-width="0.8" /><line x1="75.90" y1="263.12" x2="80.90" y2="263.12" stroke="#000" stroke-width="0.8" />
<line x1="180.25" y1="338.45" x2="180.25" y2="332.25" stroke="#000" stroke-width="0.8" /><line x1="177.75" y1="332.25" x2="182.75" y2="332.25" stroke="#000" stroke-width="0.8" />
<line x1="180.25" y1="338.45" x2="180.25" y2="344.65" stroke="#000" stroke-width="0.8" /><line x1="177.75" y1="344.65" x2="182.75" y2="344.65" stroke="#000" stroke-width="0.8" />
<path d="M78.40 251.22 L83.60 256.42 L78.40 261.62 L73.20 256.42 Z" fill="#000"/>
<path d="M128.55 280.86 L133.75 286.06 L128.55 291.26 L123.35 286.06 Z" fill="#000"/>
<path d="M180.25 333.25 L185.45 338.45 L180.25 343.65 L175.05 338.45 Z" fill="#000"/>
<path d="M196.45 362.41 L201.65 367.61 L196.45 372.81 L191.25 367.61 Z" fill="#000"/>
<line x1="154.70" y1="245.50" x2="179.40" y2="245.50" stroke="#222" stroke-width="0.8" />
<path d="M166.90 240.70 L171.70 245.50 L166.90 250.30 L162.10 245.50 Z" fill="#000"/>
<text x="184.50" y="249.10" font-size="10" text-anchor="start" font-weight="normal"  fill="#000" >Colon (V<tspan font-size="6.5" dy="2">h</tspan><tspan dy="-2"> = -60 mV)</tspan></text>
<line x1="155.20" y1="263.40" x2="179.40" y2="263.40" stroke="#222" stroke-width="0.8" stroke-dasharray="5 4.5"/>
<text x="184.50" y="267.00" font-size="10" text-anchor="start" font-weight="normal"  fill="#000" >Ileum (V<tspan font-size="6.5" dy="2">h</tspan><tspan dy="-2"> = -60 mV)</tspan></text>
<text x="319.50" y="79.00" font-size="11.5" text-anchor="start" font-weight="bold"  fill="#000" style="stroke-width:0.1px">c</text>
<line x1="398.40" y1="84.50" x2="480.80" y2="84.50" stroke="#333" stroke-width="0.8" />
<line x1="398.40" y1="87.73" x2="480.80" y2="87.73" stroke="#333" stroke-width="0.8" />
<line x1="398.40" y1="90.95" x2="480.80" y2="90.95" stroke="#333" stroke-width="0.8" />
<line x1="398.40" y1="94.18" x2="480.80" y2="94.18" stroke="#333" stroke-width="0.8" />
<line x1="398.40" y1="97.41" x2="480.80" y2="97.41" stroke="#333" stroke-width="0.8" />
<line x1="398.40" y1="100.64" x2="480.80" y2="100.64" stroke="#333" stroke-width="0.8" />
<line x1="398.40" y1="103.86" x2="480.80" y2="103.86" stroke="#333" stroke-width="0.8" />
<line x1="398.40" y1="107.09" x2="480.80" y2="107.09" stroke="#333" stroke-width="0.8" />
<line x1="398.40" y1="110.32" x2="480.80" y2="110.32" stroke="#333" stroke-width="0.8" />
<line x1="398.40" y1="113.55" x2="480.80" y2="113.55" stroke="#333" stroke-width="0.8" />
<line x1="398.40" y1="116.77" x2="480.80" y2="116.77" stroke="#333" stroke-width="0.8" />
<line x1="398.40" y1="120.00" x2="480.80" y2="120.00" stroke="#333" stroke-width="0.8" />
<line x1="398.40" y1="84.10" x2="398.40" y2="120.40" stroke="#333" stroke-width="0.8" />
<line x1="480.80" y1="84.10" x2="480.80" y2="120.40" stroke="#333" stroke-width="0.8" />
<line x1="390.10" y1="120.00" x2="398.40" y2="120.00" stroke="#333" stroke-width="0.8" />
<line x1="480.80" y1="91.10" x2="489.40" y2="91.10" stroke="#333" stroke-width="0.8" />
<line x1="489.40" y1="90.70" x2="489.40" y2="120.40" stroke="#333" stroke-width="0.8" />
<line x1="489.40" y1="120.00" x2="497.70" y2="120.00" stroke="#333" stroke-width="0.8" />
<text x="438.70" y="79.10" font-size="8.6" text-anchor="middle" font-weight="normal"  fill="#000" >10 s</text>
<text x="482.50" y="85.40" font-size="8.6" text-anchor="start" font-weight="normal"  fill="#000" >1 s</text>
<text x="498.50" y="94.70" font-size="8.6" text-anchor="start" font-weight="normal"  fill="#000" >0 mV</text>
<text x="471.60" y="129.70" font-size="8.6" text-anchor="start" font-weight="normal"  fill="#000" >20 ms</text>
<text x="358.20" y="123.40" font-size="8.6" text-anchor="start" font-weight="normal"  fill="#000" >-90 mV</text>
<line x1="345.10" y1="143.50" x2="345.10" y2="314.90" stroke="#000" stroke-width="1.8" />
<line x1="340.50" y1="314.00" x2="345.10" y2="314.00" stroke="#000" stroke-width="1.6" />
<text x="336.90" y="317.40" font-size="10" text-anchor="end" font-weight="normal"  fill="#000" >0</text>
<line x1="340.50" y1="285.74" x2="345.10" y2="285.74" stroke="#000" stroke-width="1.6" />
<text x="336.90" y="289.14" font-size="10" text-anchor="end" font-weight="normal"  fill="#000" >0.2</text>
<line x1="340.50" y1="257.48" x2="345.10" y2="257.48" stroke="#000" stroke-width="1.6" />
<text x="336.90" y="260.88" font-size="10" text-anchor="end" font-weight="normal"  fill="#000" >0.4</text>
<line x1="340.50" y1="229.22" x2="345.10" y2="229.22" stroke="#000" stroke-width="1.6" />
<text x="336.90" y="232.62" font-size="10" text-anchor="end" font-weight="normal"  fill="#000" >0.6</text>
<line x1="340.50" y1="200.96" x2="345.10" y2="200.96" stroke="#000" stroke-width="1.6" />
<text x="336.90" y="204.36" font-size="10" text-anchor="end" font-weight="normal"  fill="#000" >0.8</text>
<line x1="340.50" y1="172.70" x2="345.10" y2="172.70" stroke="#000" stroke-width="1.6" />
<text x="336.90" y="176.10" font-size="10" text-anchor="end" font-weight="normal"  fill="#000" >1</text>
<line x1="340.50" y1="144.44" x2="345.10" y2="144.44" stroke="#000" stroke-width="1.6" />
<text x="336.90" y="147.84" font-size="10" text-anchor="end" font-weight="normal"  fill="#000" >1.2</text>
<line x1="351.40" y1="314.50" x2="591.07" y2="314.50" stroke="#000" stroke-width="1.8" />
<line x1="352.40" y1="314.50" x2="352.40" y2="319.30" stroke="#000" stroke-width="1.6" />
<line x1="370.69" y1="314.50" x2="370.69" y2="319.30" stroke="#000" stroke-width="1.6" />
<line x1="388.98" y1="314.50" x2="388.98" y2="319.30" stroke="#000" stroke-width="1.6" />
<line x1="407.27" y1="314.50" x2="407.27" y2="319.30" stroke="#000" stroke-width="1.6" />
<line x1="425.56" y1="314.50" x2="425.56" y2="319.30" stroke="#000" stroke-width="1.6" />
<line x1="443.85" y1="314.50" x2="443.85" y2="319.30" stroke="#000" stroke-width="1.6" />
<line x1="462.14" y1="314.50" x2="462.14" y2="319.30" stroke="#000" stroke-width="1.6" />
<line x1="480.43" y1="314.50" x2="480.43" y2="319.30" stroke="#000" stroke-width="1.6" />
<line x1="498.72" y1="314.50" x2="498.72" y2="319.30" stroke="#000" stroke-width="1.6" />
<line x1="517.01" y1="314.50" x2="517.01" y2="319.30" stroke="#000" stroke-width="1.6" />
<line x1="535.30" y1="314.50" x2="535.30" y2="319.30" stroke="#000" stroke-width="1.6" />
<line x1="553.59" y1="314.50" x2="553.59" y2="319.30" stroke="#000" stroke-width="1.6" />
<line x1="571.88" y1="314.50" x2="571.88" y2="319.30" stroke="#000" stroke-width="1.6" />
<line x1="590.17" y1="314.50" x2="590.17" y2="319.30" stroke="#000" stroke-width="1.6" />
<text x="352.40" y="331.80" font-size="10" text-anchor="middle" font-weight="normal"  fill="#000" >-100</text>
<text x="388.98" y="331.80" font-size="10" text-anchor="middle" font-weight="normal"  fill="#000" >-80</text>
<text x="425.56" y="331.80" font-size="10" text-anchor="middle" font-weight="normal"  fill="#000" >-60</text>
<text x="462.14" y="331.80" font-size="10" text-anchor="middle" font-weight="normal"  fill="#000" >-40</text>
<text x="498.72" y="331.80" font-size="10" text-anchor="middle" font-weight="normal"  fill="#000" >-20</text>
<text x="535.30" y="331.80" font-size="10" text-anchor="middle" font-weight="normal"  fill="#000" >0</text>
<text x="571.88" y="331.80" font-size="10" text-anchor="middle" font-weight="normal"  fill="#000" >20</text>
<text x="467.70" y="347.00" font-size="10" text-anchor="middle" font-weight="normal"  fill="#000" >Membrane potential (mV)</text>
<text transform="translate(318.0 228.9) rotate(-90)" font-size="10" text-anchor="middle" >Relative amplitude</text>
<path d="M352.40 170.59 L353.86 170.59 L355.33 170.59 L356.79 170.59 L358.25 170.59 L359.72 170.59 L361.18 170.59 L362.64 170.60 L364.11 170.60 L365.57 170.60 L367.03 170.60 L368.50 170.61 L369.96 170.61 L371.42 170.61 L372.88 170.62 L374.35 170.62 L375.81 170.63 L377.27 170.64 L378.74 170.64 L380.20 170.65 L381.66 170.66 L383.13 170.67 L384.59 170.68 L386.05 170.70 L387.52 170.71 L388.98 170.73 L390.44 170.75 L391.91 170.77 L393.37 170.80 L394.83 170.83 L396.30 170.86 L397.76 170.89 L399.22 170.94 L400.69 170.98 L402.15 171.03 L403.61 171.09 L405.08 171.16 L406.54 171.24 L408.00 171.32 L409.46 171.42 L410.93 171.53 L412.39 171.65 L413.85 171.79 L415.32 171.94 L416.78 172.12 L418.24 172.32 L419.71 172.54 L421.17 172.80 L422.63 173.08 L424.10 173.40 L425.56 173.77 L427.02 174.17 L428.49 174.63 L429.95 175.14 L431.41 175.72 L432.88 176.37 L434.34 177.09 L435.80 177.90 L437.27 178.80 L438.73 179.81 L440.19 180.93 L441.66 182.18 L443.12 183.56 L444.58 185.09 L446.04 186.77 L447.51 188.63 L448.97 190.66 L450.43 192.88 L451.90 195.30 L453.36 197.92 L454.82 200.74 L456.29 203.78 L457.75 207.02 L459.21 210.47 L460.68 214.11 L462.14 217.92 L463.60 221.91 L465.07 226.03 L466.53 230.27 L467.99 234.60 L469.46 238.98 L470.92 243.39 L472.38 247.80 L473.85 252.16 L475.31 256.44 L476.77 260.63 L478.24 264.68 L479.70 268.59 L481.16 272.32 L482.62 275.86 L484.09 279.21 L485.55 282.35 L487.01 285.28 L488.48 288.00 L489.94 290.52 L491.40 292.84 L492.87 294.96 L494.33 296.90 L495.79 298.67 L497.26 300.28 L498.72 301.73 L500.18 303.04 L501.65 304.23 L503.11 305.29 L504.57 306.24 L506.04 307.10 L507.50 307.86 L508.96 308.55 L510.43 309.16 L511.89 309.70 L513.35 310.19 L514.82 310.62 L516.28 311.00 L517.74 311.34 L519.20 311.64 L520.67 311.91 L522.13 312.15 L523.59 312.36 L525.06 312.55 L526.52 312.72 L527.98 312.86 L529.45 313.00 L530.91 313.11 L532.37 313.21 L533.84 313.30 L535.30 313.38 L536.76 313.46 L538.23 313.52 L539.69 313.57 L541.15 313.62 L542.62 313.67 L544.08 313.71 L545.54 313.74 L547.01 313.77 L548.47 313.80 L549.93 313.82 L551.40 313.84 L552.86 313.86 L554.32 313.88 L555.78 313.89 L557.25 313.90 L558.71 313.91 L560.17 313.92 L561.64 313.93 L563.10 313.94 L564.56 313.95 L566.03 313.95 L567.49 313.96 L568.95 313.96 L570.42 313.97 L571.88 313.97" fill="none" stroke="#000" stroke-width="0.8" />
<path d="M352.40 227.86 L353.86 227.86 L355.33 227.87 L356.79 227.87 L358.25 227.88 L359.72 227.89 L361.18 227.90 L362.64 227.91 L364.11 227.92 L365.57 227.93 L367.03 227.94 L368.50 227.96 L369.96 227.97 L371.42 227.99 L372.88 228.01 L374.35 228.03 L375.81 228.06 L377.27 228.08 L378.74 228.11 L380.20 228.14 L381.66 228.18 L383.13 228.22 L384.59 228.27 L386.05 228.31 L387.52 228.37 L388.98 228.43 L390.44 228.50 L391.91 228.57 L393.37 228.65 L394.83 228.74 L396.30 228.84 L397.76 228.95 L399.22 229.07 L400.69 229.21 L402.15 229.36 L403.61 229.52 L405.08 229.70 L406.54 229.90 L408.00 230.12 L409.46 230.37 L410.93 230.63 L412.39 230.93 L413.85 231.25 L415.32 231.61 L416.78 232.00 L418.24 232.42 L419.71 232.89 L421.17 233.41 L422.63 233.97 L424.10 234.58 L425.56 235.25 L427.02 235.98 L428.49 236.77 L429.95 237.63 L431.41 238.55 L432.88 239.56 L434.34 240.64 L435.80 241.80 L437.27 243.04 L438.73 244.37 L440.19 245.79 L441.66 247.29 L443.12 248.88 L444.58 250.56 L446.04 252.31 L447.51 254.15 L448.97 256.06 L450.43 258.05 L451.90 260.09 L453.36 262.19 L454.82 264.33 L456.29 266.50 L457.75 268.70 L459.21 270.90 L460.68 273.11 L462.14 275.31 L463.60 277.48 L465.07 279.62 L466.53 281.72 L467.99 283.76 L469.46 285.74 L470.92 287.65 L472.38 289.49 L473.85 291.25 L475.31 292.93 L476.77 294.52 L478.24 296.02 L479.70 297.44 L481.16 298.76 L482.62 300.01 L484.09 301.17 L485.55 302.25 L487.01 303.25 L488.48 304.18 L489.94 305.04 L491.40 305.83 L492.87 306.56 L494.33 307.23 L495.79 307.84 L497.26 308.40 L498.72 308.91 L500.18 309.38 L501.65 309.81 L503.11 310.20 L504.57 310.56 L506.04 310.88 L507.50 311.17 L508.96 311.44 L510.43 311.68 L511.89 311.90 L513.35 312.10 L514.82 312.29 L516.28 312.45 L517.74 312.60 L519.20 312.73 L520.67 312.85 L522.13 312.97 L523.59 313.06 L525.06 313.16 L526.52 313.24 L527.98 313.31 L529.45 313.38 L530.91 313.44 L532.37 313.49 L533.84 313.54 L535.30 313.59 L536.76 313.63 L538.23 313.66 L539.69 313.70 L541.15 313.72 L542.62 313.75 L544.08 313.78 L545.54 313.80 L547.01 313.82 L548.47 313.83 L549.93 313.85 L551.40 313.87 L552.86 313.88 L554.32 313.89 L555.78 313.90 L557.25 313.91 L558.71 313.92 L560.17 313.93 L561.64 313.93 L563.10 313.94 L564.56 313.95 L566.03 313.95 L567.49 313.96 L568.95 313.96 L570.42 313.96 L571.88 313.97" fill="none" stroke="#000" stroke-width="0.8" />
<circle cx="370.69" cy="172.70" r="4.90" fill="#fff" stroke="#000" stroke-width="0.9"/>
<circle cx="388.98" cy="172.70" r="4.90" fill="#fff" stroke="#000" stroke-width="0.9"/>
<circle cx="407.27" cy="172.70" r="4.90" fill="#fff" stroke="#000" stroke-width="0.9"/>
<circle cx="425.56" cy="172.70" r="4.90" fill="#fff" stroke="#000" stroke-width="0.9"/>
<circle cx="443.85" cy="177.08" r="4.90" fill="#fff" stroke="#000" stroke-width="0.9"/>
<circle cx="462.14" cy="217.92" r="4.90" fill="#fff" stroke="#000" stroke-width="0.9"/>
<circle cx="480.43" cy="274.86" r="4.90" fill="#fff" stroke="#000" stroke-width="0.9"/>
<circle cx="498.72" cy="294.50" r="4.90" fill="#fff" stroke="#000" stroke-width="0.9"/>
<circle cx="517.01" cy="307.92" r="4.90" fill="#fff" stroke="#000" stroke-width="0.9"/>
<circle cx="535.30" cy="313.29" r="4.90" fill="#fff" stroke="#000" stroke-width="0.9"/>
<circle cx="370.69" cy="227.81" r="5.50" fill="#000"/>
<circle cx="388.98" cy="227.81" r="5.50" fill="#000"/>
<circle cx="407.27" cy="228.51" r="5.50" fill="#000"/>
<circle cx="425.56" cy="234.45" r="5.50" fill="#000"/>
<circle cx="443.85" cy="249.71" r="5.50" fill="#000"/>
<circle cx="462.14" cy="275.43" r="5.50" fill="#000"/>
<circle cx="480.43" cy="298.03" r="5.50" fill="#000"/>
<circle cx="498.72" cy="309.34" r="5.50" fill="#000"/>
<circle cx="517.01" cy="312.59" r="5.50" fill="#000"/>
<circle cx="535.30" cy="313.58" r="5.50" fill="#000"/>
<circle cx="553.59" cy="313.86" r="5.50" fill="#000"/>
<circle cx="571.88" cy="313.86" r="5.50" fill="#000"/>
<line x1="467.00" y1="160.80" x2="487.50" y2="160.80" stroke="#222" stroke-width="0.8" />
<circle cx="477.70" cy="160.80" r="4.90" fill="#fff" stroke="#000" stroke-width="0.9"/>
<text x="496.50" y="164.80" font-size="10" text-anchor="start" font-weight="normal"  fill="#000" >Control</text>
<line x1="467.00" y1="180.30" x2="487.50" y2="180.30" stroke="#222" stroke-width="0.8" />
<circle cx="477.70" cy="180.30" r="5.50" fill="#000"/>
<text x="496.50" y="183.90" font-size="10" text-anchor="start" font-weight="normal"  fill="#000" >AJG049 300 nM</text>
</svg>
</body></html>
